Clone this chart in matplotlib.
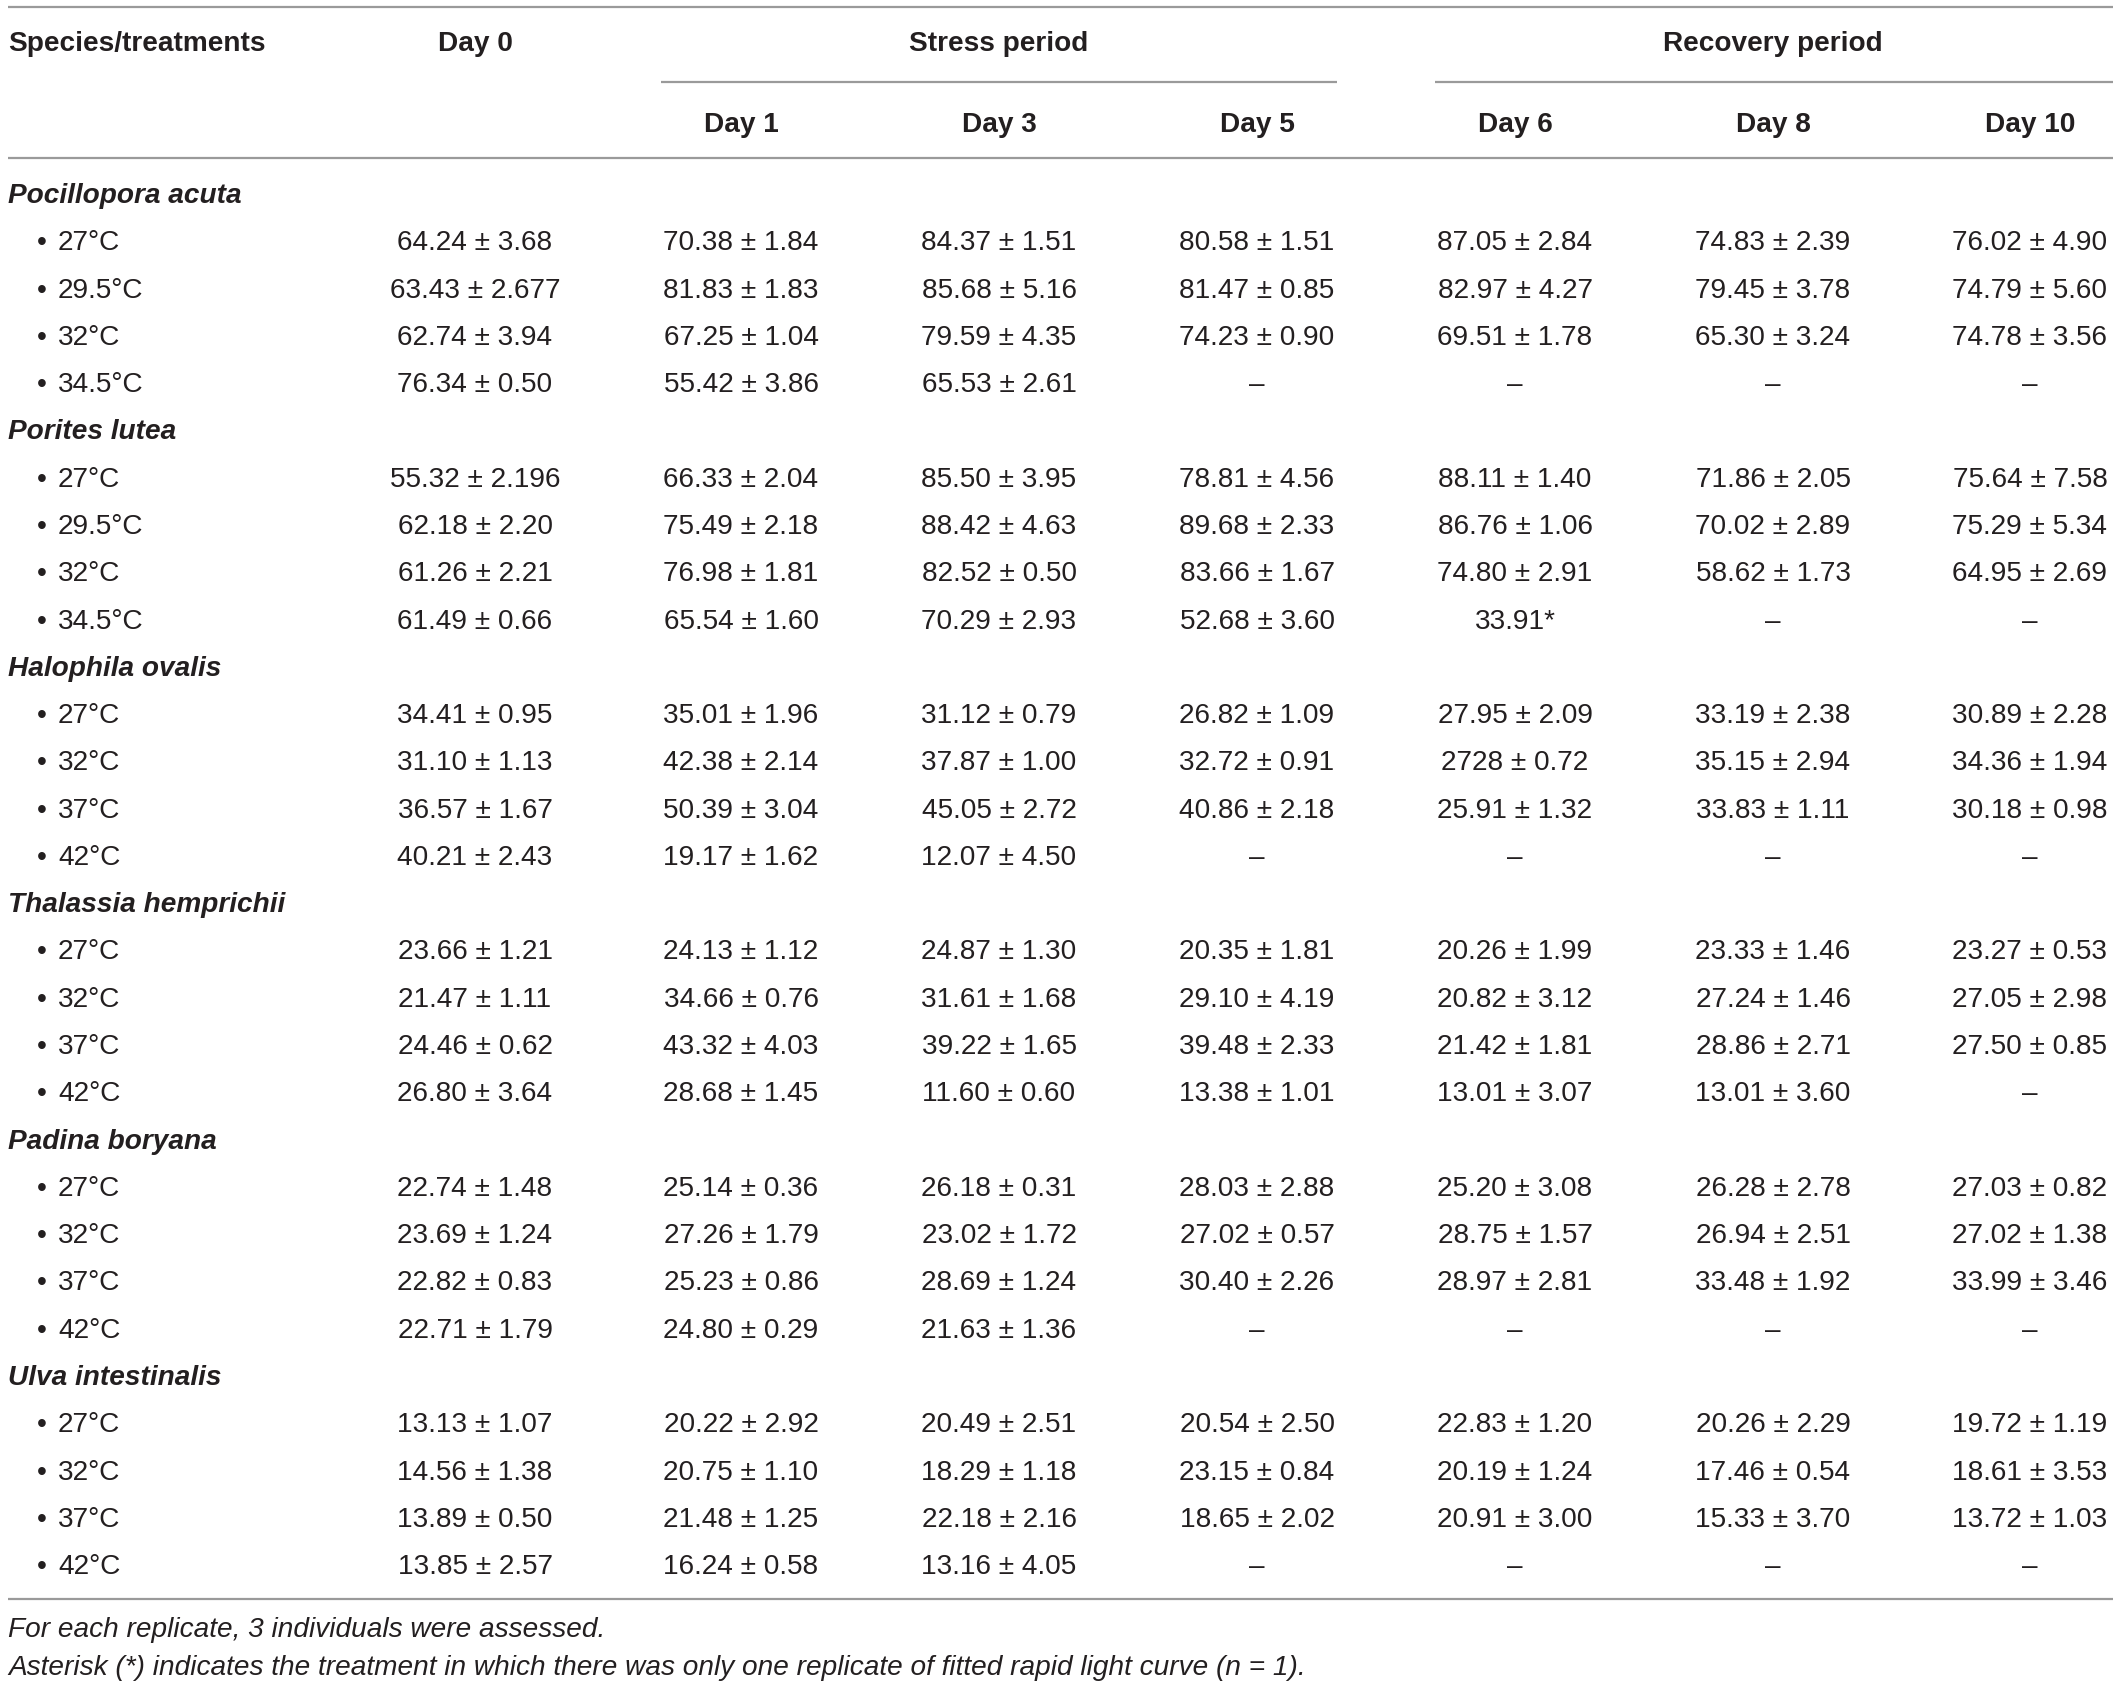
import matplotlib
matplotlib.use("Agg")
import matplotlib.pyplot as plt

plt.rcParams['font.family'] = ['Liberation Sans', 'DejaVu Sans']

# ---------------- data ----------------
days = ["Day 0", "Day 1", "Day 3", "Day 5", "Day 6", "Day 8", "Day 10"]
groups = ["Stress period", "Recovery period"]
species = ["Pocillopora acuta", "Porites lutea", "Halophila ovalis",
           "Thalassia hemprichii", "Padina boryana", "Ulva intestinalis"]
temps_coral = ["27°C", "29.5°C", "32°C", "34.5°C"]
temps_other = ["27°C", "32°C", "37°C", "42°C"]

pocillopora = [
    ["64.24 ± 3.68", "70.38 ± 1.84", "84.37 ± 1.51", "80.58 ± 1.51", "87.05 ± 2.84", "74.83 ± 2.39", "76.02 ± 4.90"],
    ["63.43 ± 2.677", "81.83 ± 1.83", "85.68 ± 5.16", "81.47 ± 0.85", "82.97 ± 4.27", "79.45 ± 3.78", "74.79 ± 5.60"],
    ["62.74 ± 3.94", "67.25 ± 1.04", "79.59 ± 4.35", "74.23 ± 0.90", "69.51 ± 1.78", "65.30 ± 3.24", "74.78 ± 3.56"],
    ["76.34 ± 0.50", "55.42 ± 3.86", "65.53 ± 2.61", "–", "–", "–", "–"],
]
porites = [
    ["55.32 ± 2.196", "66.33 ± 2.04", "85.50 ± 3.95", "78.81 ± 4.56", "88.11 ± 1.40", "71.86 ± 2.05", "75.64 ± 7.58"],
    ["62.18 ± 2.20", "75.49 ± 2.18", "88.42 ± 4.63", "89.68 ± 2.33", "86.76 ± 1.06", "70.02 ± 2.89", "75.29 ± 5.34"],
    ["61.26 ± 2.21", "76.98 ± 1.81", "82.52 ± 0.50", "83.66 ± 1.67", "74.80 ± 2.91", "58.62 ± 1.73", "64.95 ± 2.69"],
    ["61.49 ± 0.66", "65.54 ± 1.60", "70.29 ± 2.93", "52.68 ± 3.60", "33.91*", "–", "–"],
]
halophila = [
    ["34.41 ± 0.95", "35.01 ± 1.96", "31.12 ± 0.79", "26.82 ± 1.09", "27.95 ± 2.09", "33.19 ± 2.38", "30.89 ± 2.28"],
    ["31.10 ± 1.13", "42.38 ± 2.14", "37.87 ± 1.00", "32.72 ± 0.91", "2728 ± 0.72", "35.15 ± 2.94", "34.36 ± 1.94"],
    ["36.57 ± 1.67", "50.39 ± 3.04", "45.05 ± 2.72", "40.86 ± 2.18", "25.91 ± 1.32", "33.83 ± 1.11", "30.18 ± 0.98"],
    ["40.21 ± 2.43", "19.17 ± 1.62", "12.07 ± 4.50", "–", "–", "–", "–"],
]
thalassia = [
    ["23.66 ± 1.21", "24.13 ± 1.12", "24.87 ± 1.30", "20.35 ± 1.81", "20.26 ± 1.99", "23.33 ± 1.46", "23.27 ± 0.53"],
    ["21.47 ± 1.11", "34.66 ± 0.76", "31.61 ± 1.68", "29.10 ± 4.19", "20.82 ± 3.12", "27.24 ± 1.46", "27.05 ± 2.98"],
    ["24.46 ± 0.62", "43.32 ± 4.03", "39.22 ± 1.65", "39.48 ± 2.33", "21.42 ± 1.81", "28.86 ± 2.71", "27.50 ± 0.85"],
    ["26.80 ± 3.64", "28.68 ± 1.45", "11.60 ± 0.60", "13.38 ± 1.01", "13.01 ± 3.07", "13.01 ± 3.60", "–"],
]
padina = [
    ["22.74 ± 1.48", "25.14 ± 0.36", "26.18 ± 0.31", "28.03 ± 2.88", "25.20 ± 3.08", "26.28 ± 2.78", "27.03 ± 0.82"],
    ["23.69 ± 1.24", "27.26 ± 1.79", "23.02 ± 1.72", "27.02 ± 0.57", "28.75 ± 1.57", "26.94 ± 2.51", "27.02 ± 1.38"],
    ["22.82 ± 0.83", "25.23 ± 0.86", "28.69 ± 1.24", "30.40 ± 2.26", "28.97 ± 2.81", "33.48 ± 1.92", "33.99 ± 3.46"],
    ["22.71 ± 1.79", "24.80 ± 0.29", "21.63 ± 1.36", "–", "–", "–", "–"],
]
ulva = [
    ["13.13 ± 1.07", "20.22 ± 2.92", "20.49 ± 2.51", "20.54 ± 2.50", "22.83 ± 1.20", "20.26 ± 2.29", "19.72 ± 1.19"],
    ["14.56 ± 1.38", "20.75 ± 1.10", "18.29 ± 1.18", "23.15 ± 0.84", "20.19 ± 1.24", "17.46 ± 0.54", "18.61 ± 3.53"],
    ["13.89 ± 0.50", "21.48 ± 1.25", "22.18 ± 2.16", "18.65 ± 2.02", "20.91 ± 3.00", "15.33 ± 3.70", "13.72 ± 1.03"],
    ["13.85 ± 2.57", "16.24 ± 0.58", "13.16 ± 4.05", "–", "–", "–", "–"],
]
footnotes = ["For each replicate, 3 individuals were assessed.",
             "Asterisk (*) indicates the treatment in which there was only one replicate of fitted rapid light curve (n = 1)."]

tables = [pocillopora, porites, halophila, thalassia, padina, ulva]
temps = [temps_coral, temps_coral, temps_other, temps_other, temps_other, temps_other]

# ---------------- layout ----------------
W, H = 2120, 1688
fig = plt.figure(figsize=(W / 100, H / 100), dpi=100)
ax = fig.add_axes([0, 0, 1, 1])
ax.set_xlim(0, W)
ax.set_ylim(H, 0)
ax.axis('off')

TXT = '#231f20'
LINE = '#9a9a9a'
FS = 20.2

col_x = [475, 741, 999, 1257, 1515, 1773, 2030]
left = 8
right = 2113

# rules
ax.plot([left, right], [7, 7], color=LINE, lw=1.6, solid_capstyle='butt')
ax.plot([661, 1337], [82, 82], color=LINE, lw=1.6, solid_capstyle='butt')
ax.plot([1435, right], [82, 82], color=LINE, lw=1.6, solid_capstyle='butt')
ax.plot([left, right], [158, 158], color=LINE, lw=1.6, solid_capstyle='butt')
ax.plot([left, right], [1599, 1599], color=LINE, lw=1.6, solid_capstyle='butt')

# header
ax.text(left, 51, "Species/treatments", fontsize=FS, fontweight='bold', color=TXT, ha='left', va='baseline')
ax.text(col_x[0], 51, days[0], fontsize=FS, fontweight='bold', color=TXT, ha='center', va='baseline')
ax.text(999, 51, groups[0], fontsize=FS, fontweight='bold', color=TXT, ha='center', va='baseline')
ax.text(1773, 51, groups[1], fontsize=FS, fontweight='bold', color=TXT, ha='center', va='baseline')
for x, d in zip(col_x[1:], days[1:]):
    ax.text(x, 132, d, fontsize=FS, fontweight='bold', color=TXT, ha='center', va='baseline')

# body
y0 = 193.0
dy = 47.28
r = 0
for sp, tab, tl in zip(species, tables, temps):
    yc = y0 + r * dy
    ax.text(left, yc + 10, sp, fontsize=FS, fontweight='bold', fontstyle='italic',
            color=TXT, ha='left', va='baseline')
    r += 1
    for t, row in zip(tl, tab):
        yc = y0 + r * dy
        ax.text(37, yc + 10, "•", fontsize=FS, color=TXT, ha='left', va='baseline')
        ax.text(58, yc + 10, t, fontsize=FS, color=TXT, ha='left', va='baseline')
        for x, cell in zip(col_x, row):
            ax.text(x, yc + 10, cell, fontsize=FS, color=TXT, ha='center', va='baseline')
        r += 1

# footnotes
ax.text(left, 1637, footnotes[0], fontsize=FS, fontstyle='italic', color=TXT, ha='left', va='baseline')
ax.text(left, 1675, footnotes[1], fontsize=FS, fontstyle='italic', color=TXT, ha='left', va='baseline')

fig.savefig("out.png", dpi=100, facecolor='white')
